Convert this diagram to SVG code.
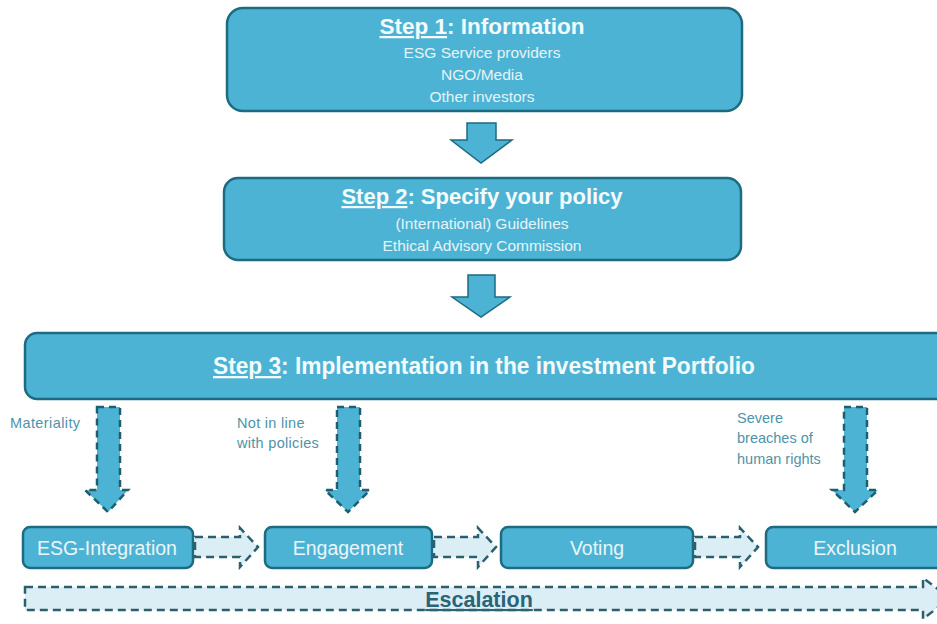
<svg xmlns="http://www.w3.org/2000/svg" width="937" height="624" viewBox="0 0 937 624">
<style>
.box{fill:#4db3d4;stroke:#1d6b80;stroke-width:2.5}
.title{font-family:"Liberation Sans",Arial,sans-serif;font-weight:bold;fill:#f4fbfd;text-anchor:middle}
.sub{font-family:"Liberation Sans",Arial,sans-serif;font-size:15.5px;fill:#e6f4f8;text-anchor:middle}
.lbl{font-family:"Liberation Sans",Arial,sans-serif;font-size:14.5px;fill:#4f93aa}
.solid{fill:#4db3d4;stroke:#1d6b80;stroke-width:1.5}
.dash{fill:#4db3d4;stroke:#1d5e70;stroke-width:2.5;stroke-dasharray:7 5}
.hdash{fill:#dceef5;stroke:#2a5f70;stroke-width:2.5;stroke-dasharray:8 5}
.bt{font-family:"Liberation Sans",Arial,sans-serif;font-size:19.5px;fill:#eaf6fa;text-anchor:middle}
</style>
<rect width="937" height="624" fill="#ffffff"/>
<g id="step1">
<rect class="box" x="227" y="8" width="515" height="103" rx="16"/>
<text class="title" x="482" y="34" font-size="22.5"><tspan text-decoration="underline">Step 1</tspan>: Information</text>
<text class="sub" x="482" y="58">ESG Service  providers</text>
<text class="sub" x="482" y="80">NGO/Media</text>
<text class="sub" x="482" y="102">Other investors</text>
</g>
<g id="step2">
<rect class="box" x="224" y="178" width="517" height="82" rx="14"/>
<text class="title" x="482" y="204" font-size="22"><tspan text-decoration="underline">Step 2</tspan>: Specify your policy</text>
<text class="sub" x="482" y="229" font-size="16">(International)  Guidelines</text>
<text class="sub" x="482" y="251" font-size="16">Ethical Advisory Commission</text>
</g>
<g id="step3">
<rect class="box" x="25" y="333" width="930" height="66" rx="12"/>
<text class="title" x="484" y="374" font-size="23" textLength="542" lengthAdjust="spacingAndGlyphs"><tspan text-decoration="underline">Step 3</tspan>: Implementation in the investment Portfolio</text>
</g>
<g id="esg">
<rect class="box" x="23" y="527" width="170" height="41" rx="7"/>
<text class="bt" x="107" y="555">ESG-Integration</text>
</g>
<g id="engagement">
<rect class="box" x="265" y="527" width="167" height="41" rx="7"/>
<text class="bt" x="348" y="555">Engagement</text>
</g>
<g id="voting">
<rect class="box" x="501" y="527" width="192" height="41" rx="7"/>
<text class="bt" x="597" y="555">Voting</text>
</g>
<g id="exclusion">
<rect class="box" x="766" y="527" width="185" height="41" rx="7"/>
<text class="bt" x="855" y="555">Exclusion</text>
</g>
<g id="connectors">
<path class="solid" d="M467,123 H496 V140 H512 L481,163 L451,140 H467 Z"/>
<path class="solid" d="M468,275 H495 V297 H510 L481,317 L452,297 H468 Z"/>
<path class="dash" d="M97,407 H120 V490 H128 L108,512 L85,490 H97 Z"/>
<path class="dash" d="M337,407 H360 V490 H370 L348,512 L325,490 H337 Z"/>
<path class="dash" d="M844,407 H867 V490 H878 L855,512 L832,490 H844 Z"/>
<path class="hdash" d="M195,537 H240 V528 L258,547 L240,567 V557 H195 Z"/>
<path class="hdash" d="M434,537 H478 V528 L496,547 L478,567 V557 H434 Z"/>
<path class="hdash" d="M695,537 H740 V528 L758,547 L740,567 V557 H695 Z"/>
<path class="hdash" d="M25,587 H923 V578 L950,598 L923,619 V610 H25 Z"/>
<text x="479" y="607" font-family="'Liberation Sans',Arial,sans-serif" font-size="21.5" font-weight="bold" fill="#2a6478" text-anchor="middle" text-decoration="underline">Escalation</text>
<text class="lbl" x="10" y="428" letter-spacing="0.4">Materiality</text>
<text class="lbl" x="237" y="428" letter-spacing="0.3">Not in line</text>
<text class="lbl" x="237" y="448" letter-spacing="0.3">with policies</text>
<text class="lbl" x="737" y="423">Severe</text>
<text class="lbl" x="737" y="443">breaches of</text>
<text class="lbl" x="737" y="464">human rights</text>
</g>
</svg>
